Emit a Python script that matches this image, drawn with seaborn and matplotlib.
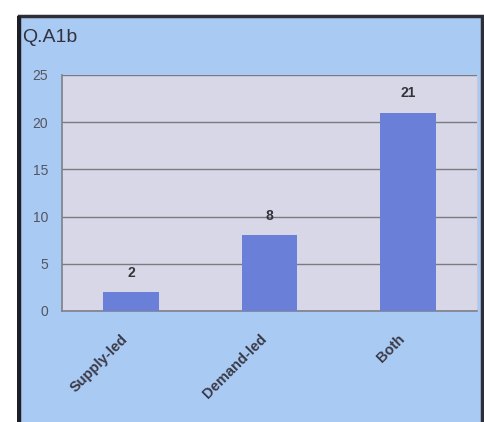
import matplotlib
matplotlib.use('Agg')
import matplotlib.pyplot as plt
import matplotlib.transforms as mtrans
import seaborn as sns
import pandas as pd
from matplotlib.patches import Rectangle

categories = ['Supply-led', 'Demand-led', 'Both']
counts = [2, 8, 21]
y_ticks = [0, 5, 10, 15, 20, 25]

df = pd.DataFrame({'category': categories, 'count': counts})

sns.set_style('white')
plt.rcParams['font.family'] = ['Liberation Sans', 'DejaVu Sans']

W, H = 485, 422
fig = plt.figure(figsize=(W / 100, H / 100), dpi=100, facecolor='white')

# light blue panel with dark frame (behind the axes)
panel = Rectangle((19 / W, -0.05), (482 - 19) / W, 1.05 - 16 / H,
                  transform=fig.transFigure, facecolor='#a9caf2',
                  edgecolor='#2e2e38', linewidth=2.5, zorder=-2)
fig.patches.append(panel)
fig.patches.append(Rectangle((17 / W, -0.05), 4 / W, 1.05 - 16 / H,
                             transform=fig.transFigure, facecolor='#1e1e26',
                             edgecolor='none', zorder=-1))

fig.text(22 / W, 1 - 37 / H, 'Q.A1b', fontsize=14, color='#333340',
         va='center', ha='left')

ax = fig.add_axes([62 / W, 1 - 311 / H, (477 - 62) / W, (311 - 75) / H])
ax.set_facecolor('#d8d7e8')

sns.barplot(data=df, x='category', y='count', color='#6a7fd8', width=0.4,
            saturation=1, linewidth=0, edgecolor='none', ax=ax, zorder=3)

ax.set_ylim(0, 25)
ax.set_xlim(-0.5, 2.5)
ax.set_yticks(y_ticks)
ax.set_yticklabels([str(t) for t in y_ticks], fontsize=10, color='#555560')
ax.yaxis.grid(True, color='#7a7a80', linewidth=1)
ax.set_axisbelow(True)
ax.tick_params(axis='y', length=3, color='#777777', pad=7)
ax.tick_params(axis='x', length=0, pad=15)

ax.set_xticks(range(len(categories)))
ax.set_xticklabels(categories, rotation=45, ha='right', rotation_mode='anchor',
                   fontsize=10.5, fontweight='bold', color='#3a3a48')
# nudge the rotated labels left so they end just before the bar centre
shift = mtrans.ScaledTranslation(-10 / 100, 0, fig.dpi_scale_trans)
for lab in ax.get_xticklabels():
    lab.set_transform(lab.get_transform() + shift)
# minor ticks at category boundaries
ax.set_xticks([0.5, 1.5], minor=True)
ax.tick_params(axis='x', which='minor', length=3, color='#777777')

for i, v in enumerate(counts):
    ax.annotate(str(v), (i, v), xytext=(0, 14), textcoords='offset points',
                ha='center', va='center', fontsize=10, fontweight='bold',
                color='#333338')

ax.set_xlabel('')
ax.set_ylabel('')
for side in ['left', 'bottom']:
    ax.spines[side].set_color('#808088')
    ax.spines[side].set_linewidth(1.2)
ax.spines['top'].set_visible(False)
ax.spines['right'].set_color('#c8c8d8')

fig.savefig('out.png', dpi=100, facecolor='white')
